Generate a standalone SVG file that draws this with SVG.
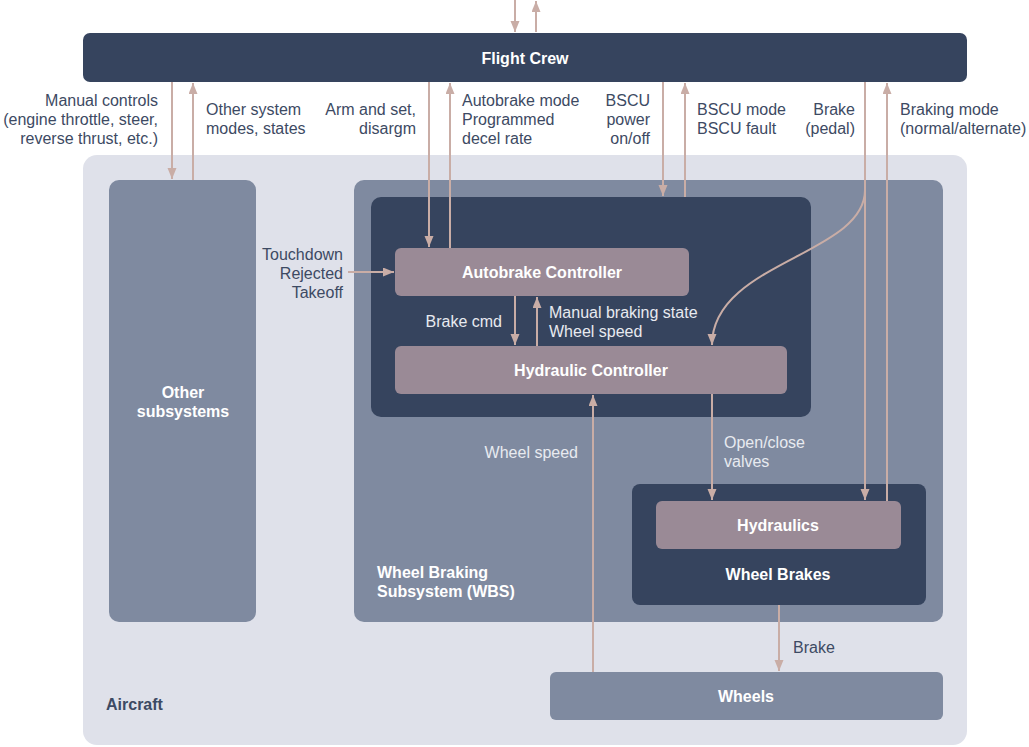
<svg xmlns="http://www.w3.org/2000/svg" width="1029" height="747" viewBox="0 0 1029 747">
<style>
text{font-family:"Liberation Sans",Arial,sans-serif;font-size:16px}
.t{fill:#ffffff;font-weight:bold;text-anchor:middle}
.tl{fill:#ffffff;font-weight:bold}
.d{fill:#3d4a63}
.l{fill:#e8eaf0}
.r{text-anchor:end}
.dark{fill:#36445e}
.mid{fill:#7f8aa0}
.ctl{fill:#9a8a96}
.c{fill:none;stroke:#c9ada6;stroke-width:2}
</style>
<defs>
<marker id="ah" markerUnits="userSpaceOnUse" markerWidth="12" markerHeight="10" refX="11" refY="4.5" orient="auto">
<path d="M0,0 L11,4.5 L0,9 z" fill="#c9ada6"/>
</marker>
</defs>
<g id="aircraft">
<rect x="83" y="155" width="884" height="590" rx="14" fill="#dfe1ea"/>
<text x="106" y="710" class="d" font-weight="bold">Aircraft</text>
</g>
<g id="flight-crew">
<rect x="83" y="33" width="884" height="49" rx="7" class="dark"/>
<text x="525" y="64" class="t">Flight Crew</text>
</g>
<g id="other-subsystems">
<rect x="109" y="180" width="147" height="442" rx="10" class="mid"/>
<text x="183" y="398" class="t">Other</text>
<text x="183" y="417" class="t">subsystems</text>
</g>
<g id="wbs">
<rect x="354" y="180" width="589" height="442" rx="10" class="mid"/>
<text x="377" y="578" class="tl">Wheel Braking</text>
<text x="377" y="597" class="tl">Subsystem (WBS)</text>
</g>
<g id="bscu">
<rect x="371" y="197" width="440" height="220" rx="10" class="dark"/>
</g>
<g id="autobrake-controller">
<rect x="395" y="248" width="294" height="48" rx="6" class="ctl"/>
<text x="542" y="278" class="t">Autobrake Controller</text>
</g>
<g id="hydraulic-controller">
<rect x="395" y="346" width="392" height="48" rx="6" class="ctl"/>
<text x="591" y="376" class="t">Hydraulic Controller</text>
</g>
<g id="wheel-brakes">
<rect x="632" y="484" width="294" height="121" rx="8" class="dark"/>
<text x="778" y="580" class="t">Wheel Brakes</text>
</g>
<g id="hydraulics">
<rect x="656" y="501" width="245" height="48" rx="6" class="ctl"/>
<text x="778" y="531" class="t">Hydraulics</text>
</g>
<g id="wheels">
<rect x="550" y="672" width="393" height="48" rx="6" class="mid"/>
<text x="746" y="702" class="t">Wheels</text>
</g>
<g id="connectors">
<path class="c" d="M515,0 V32" marker-end="url(#ah)"/>
<path class="c" d="M536,32 V1" marker-end="url(#ah)"/>
<path class="c" d="M172,82 V179" marker-end="url(#ah)"/>
<path class="c" d="M193,180 V83" marker-end="url(#ah)"/>
<path class="c" d="M429,82 V247" marker-end="url(#ah)"/>
<path class="c" d="M450,248 V83" marker-end="url(#ah)"/>
<path class="c" d="M663,82 V196" marker-end="url(#ah)"/>
<path class="c" d="M685,197 V83" marker-end="url(#ah)"/>
<path class="c" d="M865,82 V500" marker-end="url(#ah)"/>
<path class="c" d="M865,190 C865,255 712,262 712,345" marker-end="url(#ah)"/>
<path class="c" d="M887,501 V83" marker-end="url(#ah)"/>
<path class="c" d="M348,272 H394" marker-end="url(#ah)"/>
<path class="c" d="M515,296 V345" marker-end="url(#ah)"/>
<path class="c" d="M537,346 V297" marker-end="url(#ah)"/>
<path class="c" d="M593,672 V395" marker-end="url(#ah)"/>
<path class="c" d="M712,394 V500" marker-end="url(#ah)"/>
<path class="c" d="M779,605 V671" marker-end="url(#ah)"/>
</g>
<g id="labels">
<text class="d r" x="158" y="106">Manual controls</text>
<text class="d r" x="158" y="125">(engine throttle, steer,</text>
<text class="d r" x="158" y="144">reverse thrust, etc.)</text>
<text class="d" x="206" y="115">Other system</text>
<text class="d" x="206" y="134">modes, states</text>
<text class="d r" x="416" y="115">Arm and set,</text>
<text class="d r" x="416" y="134">disargm</text>
<text class="d" x="462" y="106">Autobrake mode</text>
<text class="d" x="462" y="125">Programmed</text>
<text class="d" x="462" y="144">decel rate</text>
<text class="d r" x="650" y="106">BSCU</text>
<text class="d r" x="650" y="125">power</text>
<text class="d r" x="650" y="144">on/off</text>
<text class="d" x="697" y="115">BSCU mode</text>
<text class="d" x="697" y="134">BSCU fault</text>
<text class="d r" x="855" y="115">Brake</text>
<text class="d r" x="855" y="134">(pedal)</text>
<text class="d" x="900" y="115">Braking mode</text>
<text class="d" x="900" y="134">(normal/alternate)</text>
<text class="d r" x="343" y="259.5">Touchdown</text>
<text class="d r" x="343" y="278.5">Rejected</text>
<text class="d r" x="343" y="297.5">Takeoff</text>
<text class="l r" x="502" y="327">Brake cmd</text>
<text class="l" x="549" y="318">Manual braking state</text>
<text class="l" x="549" y="337">Wheel speed</text>
<text class="l r" x="578" y="458">Wheel speed</text>
<text class="l" x="724" y="448">Open/close</text>
<text class="l" x="724" y="467">valves</text>
<text class="d" x="793" y="653">Brake</text>
</g>
</svg>
